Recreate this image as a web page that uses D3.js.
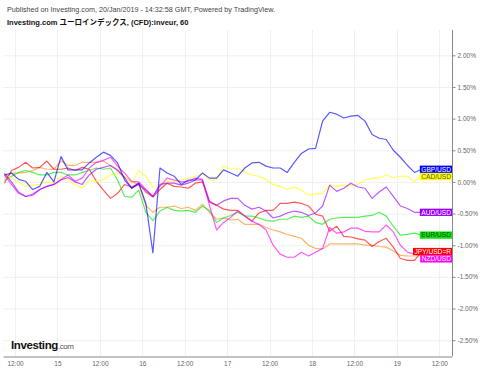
<!DOCTYPE html>
<html>
<head>
<meta charset="utf-8">
<script src="https://cdn.jsdelivr.net/npm/d3@7/dist/d3.min.js"></script>
<style>
  body { margin: 0; background: #fff; }
  text { font-family: "Liberation Sans", Arial, "Noto Sans CJK JP", sans-serif; }
</style>
</head>
<body>
<div id="chart"></div>
<script>

// hourly samples, every 2 hours, hours counted from 14/Jan/2019 00:00 GMT
var hours = d3.range(9, 128, 2);

// % change, one array per pair
var gbp = [0.11,0.14,0.04,0.01,-0.12,-0.07,0.15,0.00,0.40,0.19,0.19,0.19,0.30,0.39,0.47,0.42,0.30,0.03,-0.10,-0.02,
	   -0.34,-1.12,0.22,0.14,0.09,-0.04,0.03,0.03,0.14,0.06,0.06,0.19,0.14,0.09,0.22,0.30,0.31,0.25,0.22,0.22,
	   0.15,0.31,0.45,0.52,0.53,0.96,1.10,1.07,1.01,1.04,1.05,0.96,0.75,0.69,0.67,0.50,0.39,0.26,0.15,0.20];
var cad = [0.11,0.06,0.00,-0.07,-0.05,-0.04,0.00,-0.02,0.09,0.03,-0.04,-0.10,0.03,0.01,0.04,0.11,0.14,0.09,-0.02,0.18,
	   0.09,-0.08,-0.07,0.01,0.01,0.03,0.06,0.09,0.14,0.03,0.03,0.26,0.20,0.22,0.15,0.11,0.09,0.04,-0.04,-0.07,
	   -0.12,-0.08,-0.13,-0.21,-0.19,-0.18,-0.05,-0.07,-0.05,-0.05,-0.04,0.03,0.06,0.06,0.11,0.07,0.09,0.09,0.00,0.11];
var aud = [0.14,0.00,-0.16,-0.23,-0.21,-0.12,-0.07,-0.04,0.03,0.07,0.00,-0.04,0.11,0.20,0.23,0.26,0.18,0.07,-0.10,-0.04,
	   -0.13,-0.23,-0.04,-0.02,-0.02,-0.05,-0.02,0.03,0.03,-0.30,-0.37,-0.30,-0.26,-0.26,-0.37,-0.43,-0.40,-0.46,-0.57,-0.54,
	   -0.49,-0.46,-0.48,-0.53,-0.49,-0.38,-0.05,-0.15,-0.10,-0.02,-0.08,-0.10,-0.26,-0.16,-0.08,-0.23,-0.38,-0.42,-0.48,-0.48];
var eur = [0.03,0.09,0.15,0.18,0.15,0.11,0.11,0.15,0.15,0.11,0.11,0.15,0.18,0.22,0.20,0.22,0.03,-0.23,-0.24,-0.13,
	   -0.48,-0.61,-0.46,-0.40,-0.45,-0.46,-0.45,-0.48,-0.38,-0.45,-0.64,-0.57,-0.53,-0.48,-0.54,-0.54,-0.57,-0.61,-0.62,-0.59,
	   -0.59,-0.54,-0.56,-0.54,-0.64,-0.67,-0.59,-0.57,-0.56,-0.56,-0.56,-0.54,-0.53,-0.48,-0.54,-0.70,-0.84,-0.83,-0.81,-0.84];
var jpy = [-0.02,0.18,0.23,0.31,0.22,0.23,0.33,0.20,0.20,0.22,0.18,0.23,0.20,0.01,-0.13,-0.26,-0.18,-0.04,-0.08,-0.02,
	   -0.16,-0.24,-0.12,-0.02,-0.07,-0.08,-0.10,-0.02,0.00,-0.32,-0.37,-0.43,-0.45,-0.45,-0.54,-0.62,-0.49,-0.45,-0.45,-0.34,
	   -0.34,-0.32,-0.34,-0.38,-0.51,-0.54,-0.78,-0.70,-0.86,-0.87,-0.90,-0.92,-1.02,-0.94,-0.89,-1.03,-1.21,-1.24,-1.24,-1.10];
var nzd = [0.11,-0.04,-0.18,-0.23,-0.19,-0.12,-0.07,-0.04,0.04,0.11,0.01,0.06,0.22,0.31,0.34,0.39,0.25,0.14,0.01,0.00,
	   -0.12,-0.23,-0.07,0.06,0.03,0.00,0.01,0.06,0.04,-0.37,-0.76,-0.64,-0.56,-0.46,-0.54,-0.62,-0.67,-0.76,-1.00,-1.14,
	   -1.19,-1.19,-1.11,-1.17,-1.11,-1.05,-0.72,-0.81,-0.79,-0.73,-0.73,-0.78,-0.79,-0.79,-0.68,-0.79,-1.00,-1.11,-1.14,-1.15];
var inveur = [0.06,0.14,0.14,0.15,0.18,0.23,0.20,0.20,0.33,0.26,0.26,0.31,0.31,0.31,0.33,0.26,0.20,0.07,0.00,-0.04,
	   -0.37,-0.48,-0.40,-0.40,-0.38,-0.42,-0.40,-0.45,-0.35,-0.48,-0.59,-0.57,-0.60,-0.59,-0.67,-0.67,-0.67,-0.72,-0.76,-0.79,
	   -0.83,-0.86,-0.89,-1.00,-1.05,-1.06,-0.98,-0.98,-0.98,-0.98,-0.98,-1.00,-1.00,-1.02,-1.03,-1.09,-1.16,-1.17,-1.17,-1.16];

var y_ticks = [2.0,1.5,1.0,0.5,0.0,-0.5,-1.0,-1.5,-2.0,-2.5];

var series = [
    {name: "",          values: inveur, color: "#ff8c1a", label: null},
    {name: "JPY/USD=R", values: jpy, color: "#ff0000", label: "#fff"},
    {name: "EUR/USD",   values: eur, color: "#00e600", label: "#333"},
    {name: "CAD/USD",   values: cad, color: "#ffff00", label: "#555"},
    {name: "NZD/USD",   values: nzd, color: "#ff00ff", label: "#fff"},
    {name: "AUD/USD",   values: aud, color: "#9900ff", label: "#fff"},
    {name: "GBP/USD",   values: gbp, color: "#0000ff", label: "#fff"}
];

var W = 480, H = 369;
var plot = {left: 3, right: 452, top: 30, bot: 356};

function hdate(h) {
    return new Date(Date.UTC(2019, 0, 14) + h * 3600000);
}

var x = d3.scaleUtc()
    .domain([hdate(8.6), hdate(135.6)])
    .range([plot.left, plot.right]);
var y = d3.scaleLinear()
    .domain([-2.75, 2.4])
    .range([plot.bot, plot.top]);

var svg = d3.select("#chart").append("svg")
    .attr("width", W)
    .attr("height", H);

svg.append("rect").attr("width", W).attr("height", H).attr("fill", "#fff");

// grid
var x_ticks = d3.utcHour.every(12).range(hdate(8.6), hdate(135.6));
var grid = svg.append("g").attr("id", "grid");
grid.selectAll(".hg").data(y_ticks).enter().append("line")
    .attr("x1", plot.left).attr("x2", plot.right)
    .attr("y1", function(d) { return y(d) + 0.5; })
    .attr("y2", function(d) { return y(d) + 0.5; })
    .attr("stroke", "#f0f0f0");
grid.selectAll(".vg").data(x_ticks).enter().append("line")
    .attr("y1", plot.top).attr("y2", plot.bot)
    .attr("x1", function(d) { return Math.round(x(d)) + 0.5; })
    .attr("x2", function(d) { return Math.round(x(d)) + 0.5; })
    .attr("stroke", "#f0f0f0");

// lines
var line = d3.line()
    .x(function(d, i) { return x(hdate(hours[i])); })
    .y(function(d) { return y(d); });

svg.append("g").selectAll("path").data(series).enter().append("path")
    .attr("d", function(s) { return line(s.values); })
    .attr("fill", "none")
    .attr("stroke", function(s) { return s.color; })
    .attr("stroke-opacity", 0.65)
    .attr("stroke-width", 1.2)
    .attr("stroke-linejoin", "round");

// axes
var yAxis = d3.axisRight(y)
    .tickValues(y_ticks)
    .tickSize(3)
    .tickPadding(2)
    .tickFormat(function(d) { return d.toFixed(2) + "%"; });
var ya = svg.append("g")
    .attr("transform", "translate(" + (plot.right + 0.5) + ",0)")
    .call(yAxis);
ya.select(".domain").attr("d", "M0," + plot.top + "V" + plot.bot).attr("stroke", "#888");
ya.selectAll(".tick line").attr("stroke", "#888");
ya.selectAll(".tick text")
    .attr("fill", "#666")
    .style("font-size", "6.5px");

var xAxis = d3.axisBottom(x)
    .tickValues(x_ticks)
    .tickSize(0)
    .tickPadding(5)
    .tickFormat(function(d) {
	return d.getUTCHours() == 0 ? String(d.getUTCDate()) : "12:00";
    });
var xa = svg.append("g")
    .attr("transform", "translate(0," + (plot.bot + 0.5) + ")")
    .call(xAxis);
xa.select(".domain").attr("stroke", "#888");
xa.selectAll(".tick text")
    .attr("fill", "#666")
    .style("font-size", "6.5px");

// price labels on the right, pushed apart when they overlap
var lab_h = 7.3;
var labs = series.filter(function(s) { return s.label; })
    .map(function(s) {
	return {s: s, y: y(s.values[s.values.length - 1])};
    })
    .sort(function(a, b) { return a.y - b.y; });
for (var i = 1; i < labs.length; i++) {
    if (labs[i].y < labs[i-1].y + lab_h) {
	labs[i].y = labs[i-1].y + lab_h;
    }
}

var lg = svg.append("g").attr("id", "labels");
labs.forEach(function(l) {
    var g = lg.append("g");
    var r = g.append("rect");
    var t = g.append("text")
	.attr("x", plot.right - 1)
	.attr("y", l.y)
	.attr("dy", "0.35em")
	.attr("text-anchor", "end")
	.attr("fill", l.s.label)
	.style("font-size", "6.6px")
	.text(l.s.name);
    var w = t.node().getComputedTextLength();
    r.attr("x", plot.right - w - 2.5)
	.attr("y", l.y - lab_h / 2)
	.attr("width", w + 2.5)
	.attr("height", lab_h)
	.attr("fill", l.s.color);
});

// header
svg.append("text")
    .attr("x", 7)
    .attr("y", 12)
    .attr("fill", "#444")
    .style("font-size", "7.2px")
    .text("Published on Investing.com, 20/Jan/2019 - 14:32:58 GMT, Powered by TradingView.");
svg.append("text")
    .attr("x", 7)
    .attr("y", 25)
    .attr("fill", "#111")
    .style("font-size", "7.5px")
    .style("font-weight", "bold")
    .text("Investing.com ユーロインデックス, (CFD):inveur, 60");

// logo
var logo = svg.append("text")
    .attr("x", 11)
    .attr("y", 349)
    .attr("fill", "#111")
    .style("letter-spacing", "-0.4px");
logo.append("tspan")
    .style("font-size", "11.5px")
    .style("font-weight", "bold")
    .text("Investing");
logo.append("tspan")
    .attr("fill", "#555")
    .style("font-size", "8px")
    .text(".com");

</script>
</body>
</html>
